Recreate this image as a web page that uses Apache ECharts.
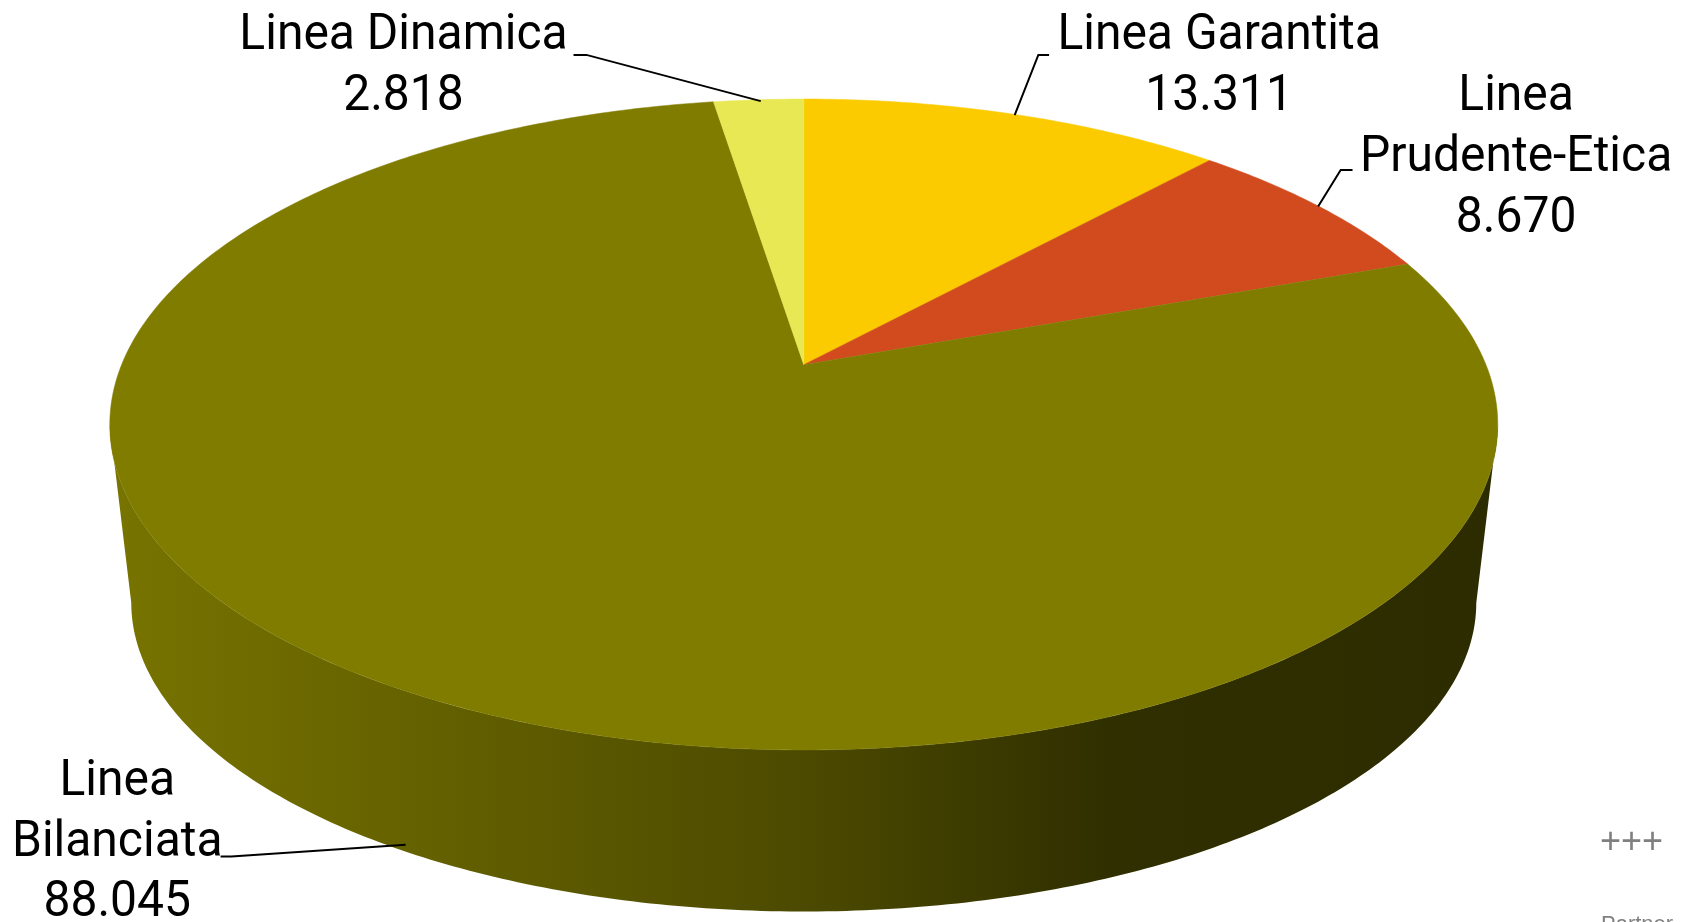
<!DOCTYPE html>
<html><head><meta charset="utf-8">
<style>html,body{margin:0;padding:0;background:#fff}#c{width:1688px;height:922px}</style>
<script src="https://cdn.jsdelivr.net/npm/echarts@6/dist/echarts.min.js"></script>
</head><body><div id="c"></div>
<script>
const categories = ['Linea Garantita','Linea Prudente-Etica','Linea Bilanciata','Linea Dinamica'];
const values = [13311, 8670, 88045, 2818];
const valueLabels = ['13.311','8.670','88.045','2.818'];
const labelLines = [['Linea Garantita','13.311'],['Linea','Prudente-Etica','8.670'],['Linea','Bilanciata','88.045'],['Linea Dinamica','2.818']];
const colors = ['#FBCB00','#D24B1E','#807C00','#E8E854'];

// label placement (page px) and leader-line paths
const S = 1.076;
const labelAt = [[1133,34],[1409,91],[109,727],[375,34]];
const leaders = [
  [[975,51],[965,51],[943,107]],
  [[1257,158],[1246,158],[1225,192]],
  [[205,796],[215,796],[377,785]],
  [[533,51],[545,51],[707,94]]
];
const total = values.reduce((a,b)=>a+b,0);

// projective view of the disc: top face and bottom face
const topF = {cx:747*S, y0:339*S, R:634*S, k:292.3*S, p:0.1835};
const botF = {cx:747*S, y0:507.4*S, R:614.4*S, k:277.4*S, p:0.1835};
function proj(f,deg){
  const a=deg*Math.PI/180,u=Math.sin(a),v=Math.cos(a),w=1+f.p*v;
  return [f.cx+f.R*u/w, f.y0-f.k*v/w];
}
function arc(f,a0,a1){
  const n=Math.max(2,Math.ceil(Math.abs(a1-a0)*1.5)),pts=[];
  for(let i=0;i<=n;i++)pts.push(proj(f,a0+(a1-a0)*i/n));
  return pts;
}
const chart = echarts.init(document.getElementById('c'),null,{renderer:'canvas'});
chart.setOption({
  animation:false,
  backgroundColor:'#fff',
  series:[{
    type:'custom',
    coordinateSystem:'none',
    silent:true,
    data:values.map((v,i)=>({name:categories[i],value:[v,i]})),
    renderItem(params,api){
      const idx=api.value(1), val=api.value(0);
      let start=0; for(let i=0;i<idx;i++)start+=values[i];
      const a0=start/total*360, a1=(start+val)/total*360;
      const children=[];
      if(val===Math.max(...values)){
        // front wall of the largest slice, visible from right to left extreme
        const wa0=100.6,wa1=259.4;
        const pts=arc(topF,wa0,wa1).concat(arc(botF,wa1,wa0));
        children.push({type:'polygon',shape:{points:pts},style:{fill:{
          type:'linear',x:0,y:0,x2:1,y2:0,colorStops:[
            {offset:0,color:'#787400'},{offset:0.25,color:'#625F00'},
            {offset:0.5,color:'#4C4A00'},{offset:0.72,color:'#302F00'},{offset:1,color:'#2C2C00'}]
        }}});
      }
      children.push({type:'polygon',shape:{points:[[topF.cx,topF.y0]].concat(arc(topF,a0,a1))},
        style:{fill:colors[idx],stroke:colors[idx],lineWidth:0.5}});
      return {type:'group',children};
    },
    z:1
  },{
    type:'custom',
    coordinateSystem:'none',
    silent:true,
    data:values.map((v,i)=>[v,i]),
    renderItem(params,api){
      const idx=api.value(1), children=[];
      children.push({type:'polyline',shape:{points:leaders[idx].map(p=>[p[0]*S,p[1]*S])},style:{stroke:'#000',lineWidth:2,fill:null}});
      const at=labelAt[idx];
      labelLines[idx].forEach((t,j)=>{
        children.push({type:'text',x:at[0]*S,y:(at[1]+j*56.5)*S,scaleX:1.0,scaleY:1.04,
          style:{text:t,x:0,y:0,textAlign:'center',textVerticalAlign:'middle',
          font:'400 48px Roboto,"Liberation Sans",sans-serif',fill:'#000'}});
      });
      return {type:'group',children};
    },
    z:2
  }],
  graphic:[
    {type:'text',left:1600,top:825,style:{text:'+++',font:'36px "Liberation Sans"',fill:'#808080'}},
    {type:'text',left:1601,top:914,style:{text:'Partner',font:'22px "Liberation Sans"',fill:'#808080'}}
  ]
});
</script></body></html>
